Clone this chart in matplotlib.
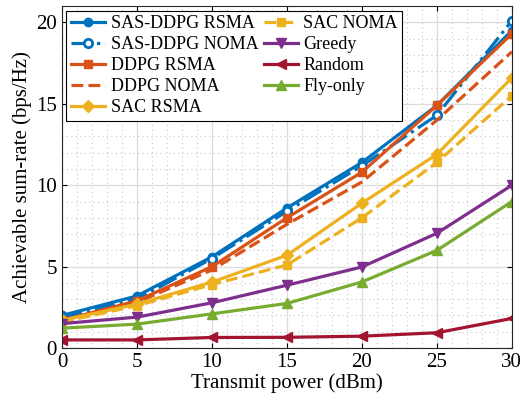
import matplotlib
matplotlib.use('Agg')
import matplotlib.pyplot as plt
import numpy as np

plt.rcParams['font.family'] = 'Liberation Serif'
plt.rcParams['mathtext.fontset'] = 'stix'

power = [0, 5, 10, 15, 20, 25, 30]
sas_rsma = [2.0, 3.2, 5.6, 8.6, 11.4, 14.9, 19.5]
sas_noma = [1.9, 3.0, 5.5, 8.4, 11.2, 14.3, 20.1]
ddpg_rsma = [1.7, 2.9, 5.0, 8.0, 10.8, 14.9, 19.3]
ddpg_noma = [1.6, 2.8, 4.8, 7.6, 10.2, 14.0, 18.2]
sac_rsma = [1.7, 2.7, 4.05, 5.7, 8.9, 11.9, 16.6]
sac_noma = [1.6, 2.6, 3.9, 5.1, 8.0, 11.4, 15.5]
greedy = [1.5, 1.9, 2.78, 3.86, 4.98, 7.05, 10.0]
random_ = [0.5, 0.5, 0.65, 0.66, 0.73, 0.94, 1.82]
fly_only = [1.22, 1.47, 2.1, 2.74, 4.06, 6.0, 9.0]

blue = '#0072BD'
orange = '#D95319'
yellow = '#EDB120'
purple = '#7E2F8E'
red = '#A2142F'
green = '#77AC30'

fig = plt.figure(figsize=(5.25, 4.09), dpi=100)
ax = fig.add_axes([0.118, 0.149, 0.857, 0.836])

lw = 2.3
ms = 6
ax.plot(power, sas_rsma, '-o', color=blue, lw=lw, ms=ms, label='SAS-DDPG RSMA')
ax.plot(power, sas_noma, '-.o', color=blue, lw=lw, ms=ms, mfc='white', mew=2, label='SAS-DDPG NOMA')
ax.plot(power, ddpg_rsma, '-s', color=orange, lw=lw, ms=ms, label='DDPG RSMA')
ax.plot(power, ddpg_noma, '--', color=orange, lw=lw, label='DDPG NOMA')
ax.plot(power, sac_rsma, '-D', color=yellow, lw=lw, ms=ms, label='SAC RSMA')
ax.plot(power, sac_noma, '--s', color=yellow, lw=lw, ms=ms, label='SAC NOMA')
ax.plot(power, greedy, '-v', color=purple, lw=lw, ms=ms + 1, label='Greedy')
ax.plot(power, random_, '-<', color=red, lw=lw, ms=ms + 1, label='Random')
ax.plot(power, fly_only, '-^', color=green, lw=lw, ms=ms + 1, label='Fly-only')

ax.set_xlim(0, 30)
ax.set_ylim(0, 21)
ax.set_xticks([0, 5, 10, 15, 20, 25, 30])
ax.set_yticks([0, 5, 10, 15, 20])
ax.set_xticks(np.arange(0, 31, 1), minor=True)
ax.set_yticks(np.arange(0, 21, 1), minor=True)
ax.grid(which='major', color='#dcdcdc', lw=0.9)
ax.grid(which='minor', color='#c8c8c8', lw=0.8, ls=(0, (1, 3)))
ax.set_axisbelow(True)
ax.tick_params(which='both', direction='in', top=True, right=True, labelsize=15)
ax.tick_params(which='minor', length=0)
for s in ax.spines.values():
    s.set_color('#262626')
    s.set_linewidth(0.8)

ax.set_xlabel('Transmit power (dBm)', fontsize=15, labelpad=1)
ax.set_ylabel('Achievable sum-rate (bps/Hz)', fontsize=15, labelpad=3)

leg = ax.legend(loc='upper left', ncol=2, fontsize=13, frameon=True, fancybox=False,
                edgecolor='black', framealpha=1, borderaxespad=0.25, handlelength=1.9,
                handletextpad=0.3, columnspacing=0.3, labelspacing=0.22, borderpad=0.25)
leg.get_frame().set_linewidth(0.8)

fig.savefig('out.png', dpi=100)
